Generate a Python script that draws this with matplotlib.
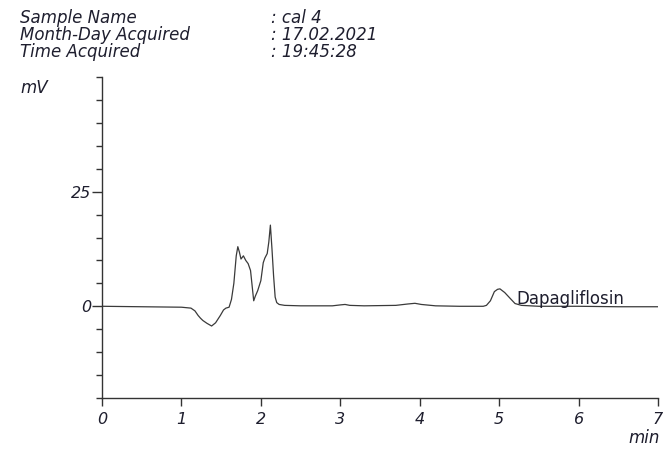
import matplotlib.pyplot as plt
from matplotlib.ticker import MultipleLocator

# chromatogram trace, time (min) vs detector signal (mV)
time_min = [0.0, 0.5, 1.0, 1.12, 1.17, 1.21, 1.24, 1.27, 1.32, 1.38, 1.43, 1.49, 1.53,
            1.56, 1.60, 1.63, 1.66, 1.69, 1.71, 1.73, 1.75, 1.78, 1.81, 1.84, 1.87,
            1.89, 1.91, 1.93, 1.96, 2.00, 2.03, 2.05, 2.08, 2.10, 2.12, 2.14, 2.16,
            2.18, 2.20, 2.23, 2.30, 2.5, 2.9, 3.0, 3.06, 3.12, 3.3, 3.7, 3.85, 3.94,
            4.02, 4.2, 4.5, 4.8, 4.84, 4.89, 4.94, 4.98, 5.01, 5.07, 5.14, 5.20, 5.28,
            5.5, 6.0, 6.5, 7.0]
signal_mv = [0.0, -0.1, -0.2, -0.4, -1.0, -2.0, -2.6, -3.1, -3.7, -4.3, -3.6, -2.0, -0.8,
             -0.4, -0.2, 1.5, 5.0, 11.0, 13.0, 11.8, 10.3, 11.0, 10.0, 9.3, 7.8,
             4.5, 1.2, 2.2, 3.4, 5.6, 9.5, 10.5, 11.5, 14.0, 17.7, 12.5, 6.7,
             2.0, 0.8, 0.4, 0.2, 0.1, 0.1, 0.3, 0.4, 0.2, 0.1, 0.2, 0.5, 0.65,
             0.4, 0.1, 0.0, 0.0, 0.2, 1.2, 3.2, 3.7, 3.8, 3.0, 1.7, 0.6, 0.2,
             0.0, 0.0, -0.1, -0.1]

peak_name = "Dapagliflosin"
peak_label_at = (5.22, 1.6)

header_keys = ["Sample Name", "Month-Day Acquired", "Time Acquired"]
header_vals = [": cal 4", ": 17.02.2021", ": 19:45:28"]

plt.rcParams['font.family'] = 'DejaVu Sans'
txt = '#1e1e2e'
fs = 12

fig = plt.figure(figsize=(6.64, 4.49), dpi=100)
ax = fig.add_axes([102/664, 51/449, 556/664, 321/449])

ax.plot(time_min, signal_mv, color='#3a3a3a', lw=0.9)
ax.text(peak_label_at[0], peak_label_at[1], peak_name, fontsize=fs,
        color=txt, va='center', ha='left')

ax.set_xlim(0, 7)
ax.set_ylim(-20, 50)
ax.spines['top'].set_visible(False)
ax.spines['right'].set_visible(False)
for s in ['left', 'bottom']:
    ax.spines[s].set_color('#333333')
    ax.spines[s].set_linewidth(1.0)

ax.set_xticks(range(8))
ax.set_yticks([0, 25])
ax.yaxis.set_minor_locator(MultipleLocator(5))
ax.tick_params(axis='x', length=6, width=1, colors='#333333', labelcolor=txt,
               labelsize=11.5, pad=4)
ax.tick_params(axis='y', which='major', length=7, width=1, colors='#333333',
               labelcolor=txt, labelsize=11.5, pad=1)
ax.tick_params(axis='y', which='minor', length=4, width=1, colors='#333333')
for lab in ax.get_xticklabels() + ax.get_yticklabels():
    lab.set_style('italic')

fig.text(20/664, 1 - 88/449, "mV", fontsize=fs, style='italic', color=txt, va='center')
fig.text(660/664, 1 - 438/449, "min", fontsize=fs, style='italic', color=txt,
         va='center', ha='right')

for i, (k, v) in enumerate(zip(header_keys, header_vals)):
    y = 1 - (18 + 17 * i) / 449
    fig.text(20/664, y, k, fontsize=fs, style='italic', color=txt, va='center')
    fig.text(271/664, y, v, fontsize=fs, style='italic', color=txt, va='center')

fig.savefig("out.png", dpi=100)
